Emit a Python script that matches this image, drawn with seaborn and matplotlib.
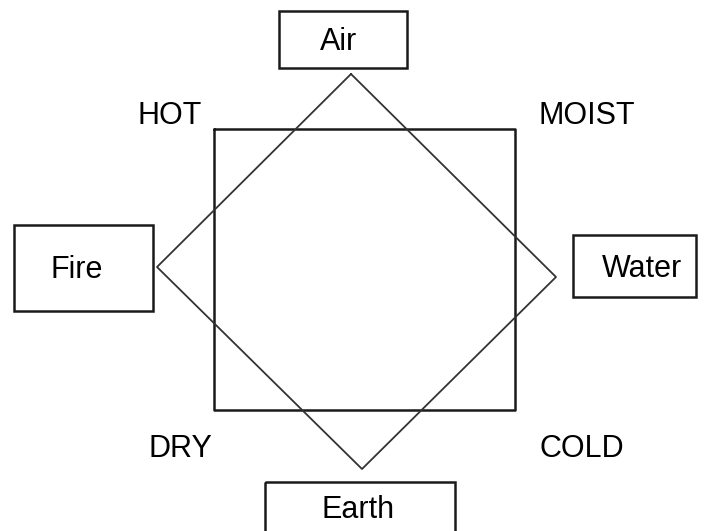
#!/usr/bin/env python3
"""Four elements / four qualities diagram (square + diamond)."""

import pandas as pd
import matplotlib.pyplot as plt
import seaborn as sns
from matplotlib.patches import Rectangle

sns.set_theme(style="white")
plt.rcParams['font.family'] = ['Liberation Sans', 'DejaVu Sans']

# Square of qualities (pixel coordinates, y grows downward)
square_x = [214, 515, 515, 214, 214]
square_y = [129, 129, 410, 410, 129]

# Diamond of elements
diamond_x = [351, 556, 362, 157, 351]
diamond_y = [74, 277, 469, 267, 74]

# Element boxes: label, left, top, width, height, label centre
elements = ['Air', 'Fire', 'Water', 'Earth']
box_left = [279, 14, 573, 265]
box_top = [11, 225, 235, 482]
box_width = [128, 139, 123, 190]
box_height = [57, 86, 62, 80]
label_x = [339, 77, 642, 358]
label_y = [42, 270, 269, 510]

# Quality labels at the corners
qualities = ['HOT', 'MOIST', 'DRY', 'COLD']
quality_x = [170, 587, 180, 582]
quality_y = [116, 116, 449, 449]

fig = plt.figure(figsize=(7.08, 5.31), dpi=100)
ax = fig.add_axes([0, 0, 1, 1])

sq = pd.DataFrame({'x': square_x, 'y': square_y})
dm = pd.DataFrame({'x': diamond_x, 'y': diamond_y})
sns.lineplot(data=sq, x='x', y='y', sort=False, estimator=None,
             color='#1a1a1a', linewidth=1.8, ax=ax)
sns.lineplot(data=dm, x='x', y='y', sort=False, estimator=None,
             color='#333333', linewidth=1.3, ax=ax)

for name, l, t, w, h, tx, ty in zip(elements, box_left, box_top, box_width,
                                    box_height, label_x, label_y):
    ax.add_patch(Rectangle((l, t), w, h, fill=False, edgecolor='#1a1a1a',
                           linewidth=1.8))
    ax.text(tx, ty, name, ha='center', va='center', fontsize=22,
            color='black')

for q, x, y in zip(qualities, quality_x, quality_y):
    ax.text(x, y, q, ha='center', va='center', fontsize=22, color='black')

ax.set_xlim(0, 708)
ax.set_ylim(531, 0)
ax.axis('off')

plt.savefig('out.png', dpi=100)
plt.close()
